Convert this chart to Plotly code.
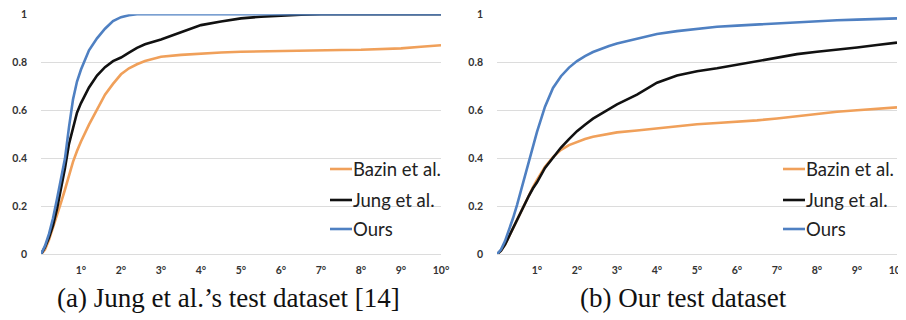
import plotly.graph_objects as go

# ---------------- data ----------------
x_vals = [0, 0.1, 0.2, 0.3, 0.4, 0.5, 0.6, 0.7, 0.8, 0.9, 1.0, 1.2, 1.4, 1.6, 1.8,
          2.0, 2.2, 2.4, 2.6, 2.8, 3.0, 3.5, 4.0, 4.5, 5.0, 5.5, 6.0, 6.5, 7.0,
          7.5, 8.0, 8.5, 9.0, 9.5, 10.0]

# (a) Jung et al.'s test dataset
a_bazin = [0, 0.02, 0.06, 0.11, 0.16, 0.215, 0.27, 0.33, 0.385, 0.43, 0.47, 0.54, 0.605,
           0.665, 0.71, 0.75, 0.775, 0.792, 0.805, 0.815, 0.823, 0.831, 0.837, 0.841,
           0.844, 0.846, 0.847, 0.848, 0.849, 0.851, 0.852, 0.855, 0.858, 0.865, 0.871]
a_jung = [0, 0.03, 0.07, 0.12, 0.19, 0.27, 0.36, 0.46, 0.53, 0.59, 0.63, 0.695, 0.745,
          0.78, 0.805, 0.82, 0.84, 0.86, 0.875, 0.885, 0.895, 0.925, 0.955, 0.97, 0.983,
          0.99, 0.995, 0.998, 1.0, 1.0, 1.0, 1.0, 1.0, 1.0, 1.0]
a_ours = [0, 0.035, 0.085, 0.15, 0.23, 0.31, 0.40, 0.53, 0.645, 0.72, 0.77, 0.85, 0.90,
          0.94, 0.972, 0.988, 0.996, 1.0, 1.0, 1.0, 1.0, 1.0, 1.0, 1.0, 1.0, 1.0, 1.0,
          1.0, 1.0, 1.0, 1.0, 1.0, 1.0, 1.0, 1.0]

# (b) Our test dataset
b_bazin = [0, 0.015, 0.04, 0.075, 0.11, 0.145, 0.18, 0.215, 0.25, 0.28, 0.31, 0.365, 0.405,
           0.435, 0.455, 0.468, 0.48, 0.49, 0.497, 0.503, 0.508, 0.516, 0.525, 0.533,
           0.542, 0.547, 0.552, 0.558, 0.566, 0.576, 0.586, 0.594, 0.600, 0.606, 0.612]
b_jung = [0, 0.015, 0.04, 0.075, 0.11, 0.145, 0.18, 0.213, 0.245, 0.275, 0.30, 0.36, 0.405,
          0.445, 0.48, 0.513, 0.54, 0.565, 0.585, 0.605, 0.625, 0.665, 0.715, 0.745,
          0.763, 0.775, 0.79, 0.805, 0.82, 0.834, 0.844, 0.852, 0.862, 0.872, 0.882]
b_ours = [0, 0.02, 0.055, 0.1, 0.15, 0.205, 0.265, 0.33, 0.395, 0.45, 0.51, 0.615, 0.693,
          0.742, 0.778, 0.805, 0.826, 0.843, 0.857, 0.868, 0.878, 0.899, 0.918, 0.93,
          0.94, 0.948, 0.953, 0.958, 0.963, 0.968, 0.973, 0.975, 0.978, 0.98, 0.983]

series_names = ["Bazin et al.", "Jung et al.", "Ours"]
x_tick_vals = [1, 2, 3, 4, 5, 6, 7, 8, 9, 10]
x_tick_text = ["1°", "2°", "3°", "4°", "5°", "6°", "7°", "8°", "9°", "10°"]
y_tick_vals = [0, 0.2, 0.4, 0.6, 0.8, 1]
y_tick_text = ["0", "0.2", "0.4", "0.6", "0.8", "1"]
captions = ["(a) Jung et al.’s test dataset [14]", "(b) Our test dataset"]

# ---------------- style ----------------
colors = ["#F0A05A", "#111111", "#4F80C2"]
W, H = 906, 320
OFF = 8                          # the page body margin shifts the figure by 8px
tick_font = dict(family="Lato", size=10.5, color="#333333", weight="bold")
grid_col = "#DCDCDC"
panel_left = [41 - OFF, 497 - OFF]      # px where x=0 sits in each panel
panel_width = 400
y_bottom, y_top = 254.3 - OFF, 14.3 - OFF
legend_line_x = [330 - OFF, 783 - OFF]  # px start of legend key line per panel
legend_rows_y = [169 - OFF, 200 - OFF, 229 - OFF]
cap_centres = [228 - OFF, 683 - OFF]
cap_y = 298 - OFF

fig = go.Figure()

panels = [(a_bazin, a_jung, a_ours), (b_bazin, b_jung, b_ours)]
shapes, annotations = [], []
for p, ys in enumerate(panels):
    xa = "x" if p == 0 else "x2"
    ya = "y" if p == 0 else "y2"
    for i, (name, yv) in enumerate(zip(series_names, ys)):
        fig.add_trace(go.Scatter(
            x=x_vals, y=yv, name=name, mode="lines",
            line=dict(color=colors[i], width=2.6),
            xaxis=xa, yaxis=ya, cliponaxis=False, showlegend=False,
        ))
        # legend key + label
        lx = legend_line_x[p]
        ly = 1 - legend_rows_y[i] / H
        shapes.append(dict(type="line", xref="paper", yref="paper",
                           x0=lx / W, x1=(lx + 22) / W, y0=ly, y1=ly,
                           line=dict(color=colors[i], width=2.6)))
        annotations.append(dict(text=name, xref="paper", yref="paper",
                                x=(lx + 21) / W, y=ly, xanchor="left", yanchor="middle",
                                showarrow=False,
                                font=dict(family="Lato", size=18.5, color="#222222")))

def xaxis(p):
    return dict(domain=[panel_left[p] / W, (panel_left[p] + panel_width) / W],
                range=[0, 10], tickvals=x_tick_vals, ticktext=x_tick_text,
                showgrid=False, zeroline=False, showline=True, linecolor=grid_col,
                linewidth=1, ticks="", tickfont=tick_font, ticklabelstandoff=6,
                ticklabeloverflow="allow", automargin=False, fixedrange=True)

def yaxis(anchor):
    return dict(domain=[1 - y_bottom / H, 1 - y_top / H], range=[0, 1], anchor=anchor,
                tickvals=y_tick_vals, ticktext=y_tick_text, showgrid=True,
                gridcolor=grid_col, gridwidth=1, zeroline=False, showline=False,
                ticks="", tickfont=tick_font, ticklabelstandoff=13,
                ticklabeloverflow="allow", automargin=False, fixedrange=True)

for c, cx in zip(captions, cap_centres):
    annotations.append(dict(text=c, x=cx / W, y=1 - cap_y / H, xref="paper", yref="paper",
                            showarrow=False, xanchor="center", yanchor="middle",
                            font=dict(family="Liberation Serif", size=27, color="#111111")))

fig.update_layout(
    template="none",
    width=W, height=H,
    margin=dict(l=0, r=0, t=0, b=0, pad=0),
    paper_bgcolor="white", plot_bgcolor="white",
    showlegend=False,
    xaxis=xaxis(0),
    yaxis=yaxis("x"),
    xaxis2=dict(xaxis(1), anchor="y2"),
    yaxis2=yaxis("x2"),
    shapes=shapes,
    annotations=annotations,
)

fig.write_html("out.html")
